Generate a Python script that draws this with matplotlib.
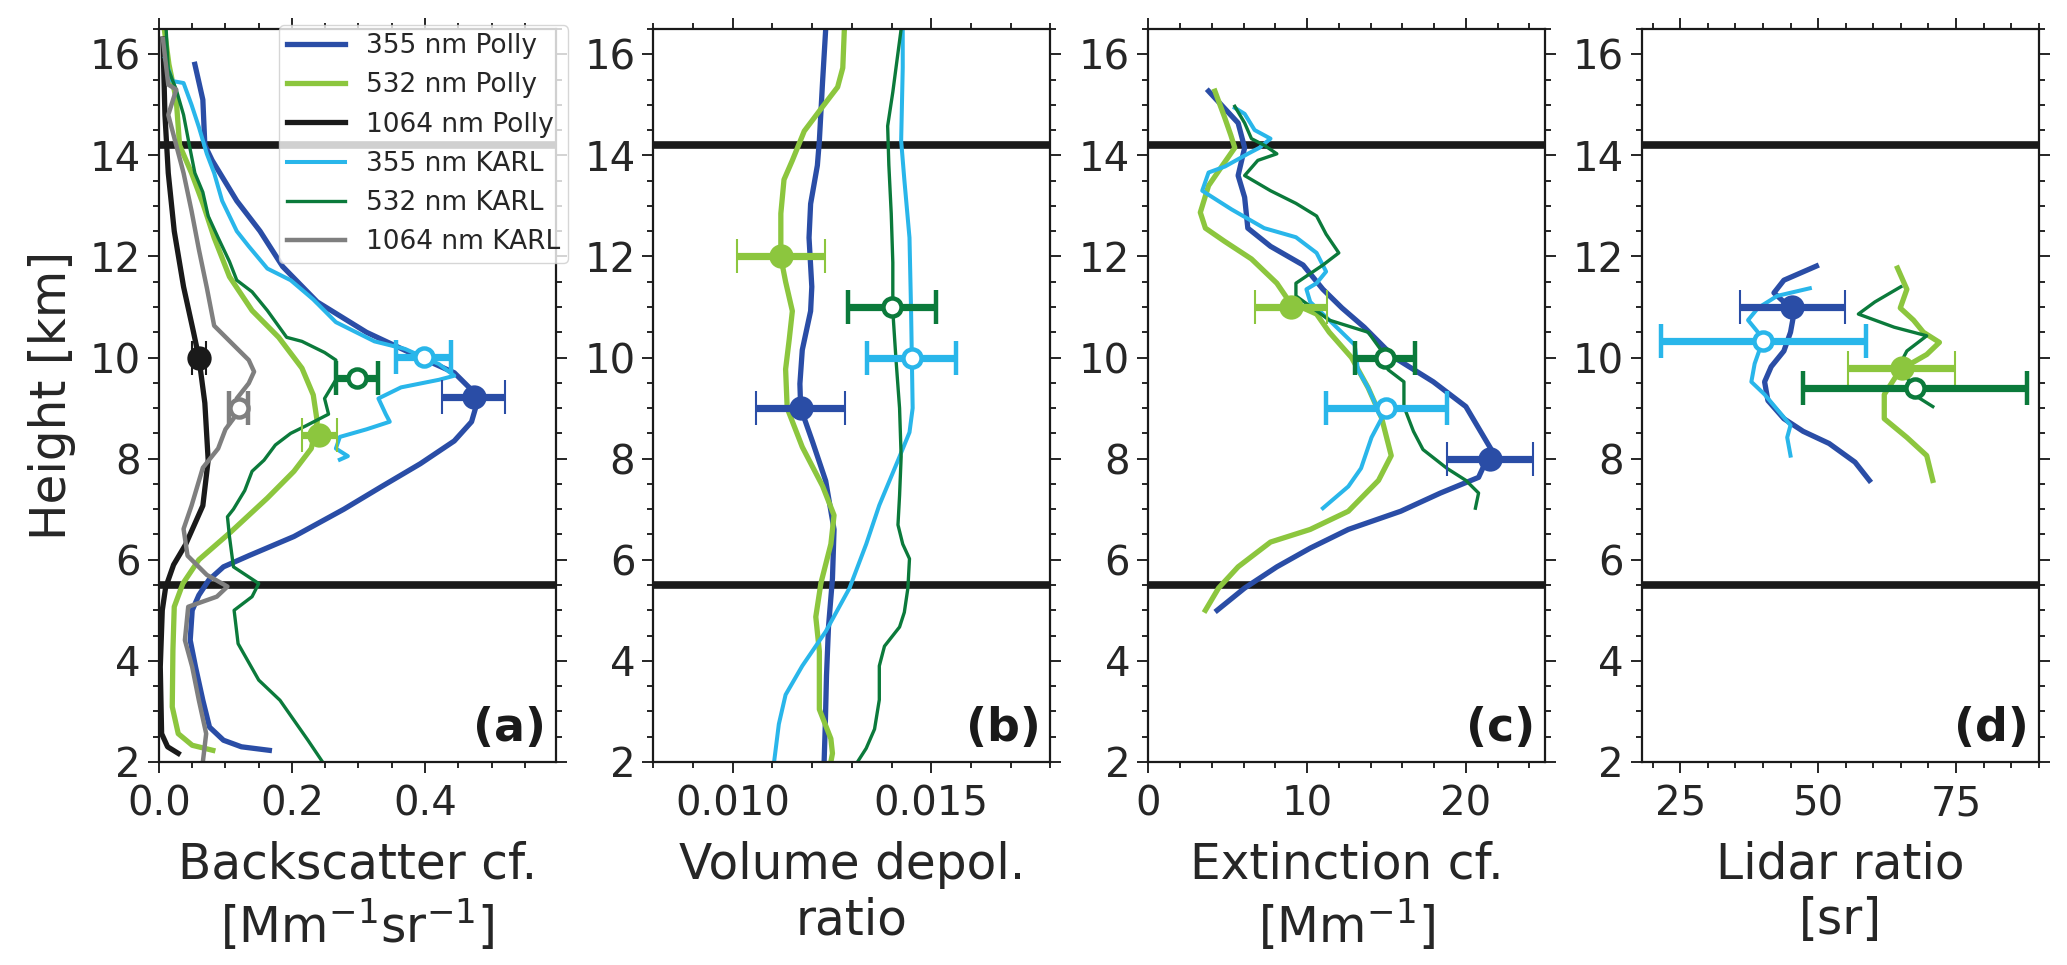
import numpy as np
import matplotlib
matplotlib.use('Agg')
import matplotlib.pyplot as plt
from matplotlib.ticker import MultipleLocator

# colours
c355p = '#2a4da6'
c532p = '#8cc63e'
c1064p = '#1a1a1a'
c355k = '#29b6ea'
c532k = '#0b7a3b'
c1064k = '#7f7f7f'

layer_bounds = [5.5, 14.2]

# ---- (a) backscatter coefficient, Mm-1 sr-1 ----
bsc355p_x = [0.054, 0.066, 0.069, 0.080, 0.117, 0.152, 0.186, 0.238, 0.312, 0.393, 0.444, 0.467, 0.476, 0.470,
             0.444, 0.393, 0.335, 0.278, 0.203, 0.135, 0.097, 0.075, 0.060, 0.050, 0.047, 0.055, 0.066, 0.076,
             0.097, 0.124, 0.166]
bsc355p_z = [15.8, 15.1, 14.2, 13.9, 13.1, 12.5, 11.8, 11.1, 10.5, 10.0, 9.7, 9.4, 9.0, 8.73,
             8.35, 7.9, 7.45, 7.0, 6.46, 6.08, 5.86, 5.6, 5.3, 5.0, 4.41, 3.88, 3.22, 2.69,
             2.43, 2.3, 2.23]
bsc532p_x = [0.008, 0.015, 0.026, 0.031, 0.049, 0.066, 0.083, 0.106, 0.140, 0.180, 0.215, 0.232, 0.238, 0.229,
             0.203, 0.163, 0.108, 0.060, 0.036, 0.023, 0.021, 0.020, 0.029, 0.050, 0.081]
bsc532p_z = [16.5, 15.8, 15.1, 14.2, 13.65, 13.05, 12.37, 11.6, 10.93, 10.4, 9.79, 9.26, 8.73, 8.2,
             7.75, 7.22, 6.55, 6.0, 5.53, 5.07, 4.21, 3.09, 2.56, 2.33, 2.23]
bsc1064p_x = [0.006, 0.009, 0.014, 0.023, 0.037, 0.052, 0.060, 0.069, 0.074, 0.066, 0.040, 0.022, 0.010,
              0.005, 0.002, 0.004, 0.013, 0.029]
bsc1064p_z = [16.3, 14.8, 13.65, 12.5, 11.4, 10.5, 10.0, 9.1, 7.97, 7.07, 6.3, 5.9, 5.45,
              5.0, 3.88, 2.56, 2.3, 2.17]
bsc355k_x = [0.009, 0.020, 0.037, 0.049, 0.060, 0.072, 0.083, 0.095, 0.117, 0.135, 0.163, 0.198, 0.232,
             0.266, 0.324, 0.370, 0.421, 0.444, 0.421, 0.364, 0.330, 0.341, 0.347, 0.312, 0.272, 0.266,
             0.284, 0.272]
bsc355k_z = [15.92, 15.47, 15.43, 15.0, 14.56, 14.03, 13.65, 13.1, 12.5, 12.2, 11.76, 11.53, 11.15,
             10.7, 10.32, 10.17, 9.87, 9.64, 9.56, 9.41, 9.19, 8.88, 8.73, 8.58, 8.43, 8.2,
             8.05, 7.98]
bsc532k_x = [0.011, 0.014, 0.026, 0.037, 0.046, 0.054, 0.066, 0.074, 0.089, 0.106, 0.117, 0.140, 0.163,
             0.192, 0.215, 0.249, 0.266, 0.266, 0.249, 0.255, 0.221, 0.198, 0.175, 0.158, 0.140, 0.129,
             0.112, 0.103, 0.106, 0.112, 0.150, 0.140, 0.113, 0.119, 0.150, 0.182, 0.224, 0.246]
bsc532k_z = [16.45, 15.7, 15.3, 14.8, 14.18, 13.65, 13.27, 12.8, 12.37, 11.9, 11.53, 11.3, 10.93,
             10.4, 10.32, 10.1, 9.95, 9.56, 9.19, 8.88, 8.65, 8.5, 8.27, 7.97, 7.75, 7.37,
             7.0, 6.85, 6.46, 5.86, 5.53, 5.27, 5.0, 4.34, 3.62, 3.22, 2.43, 2.0]
bsc1064k_x = [0.006, 0.014, 0.026, 0.014, 0.026, 0.037, 0.049, 0.060, 0.072, 0.083, 0.112, 0.135, 0.143,
              0.135, 0.117, 0.117, 0.100, 0.089, 0.066, 0.049, 0.037, 0.043, 0.072, 0.103, 0.087, 0.044,
              0.039, 0.050, 0.060, 0.071, 0.066]
bsc1064k_z = [16.3, 15.4, 15.3, 14.8, 14.2, 13.65, 12.9, 12.14, 11.38, 10.63, 10.25, 9.95, 9.72,
              9.49, 9.19, 8.88, 8.58, 8.2, 7.82, 7.07, 6.61, 6.08, 5.7, 5.47, 5.27, 5.07,
              4.41, 3.88, 3.22, 2.56, 2.0]
# layer means: value, height, error  (Polly: 355, 532, 1064 / KARL: 355, 532, 1064)
bsc_pt_polly = [(0.473, 9.22, 0.047), (0.241, 8.47, 0.026), (0.060, 10.0, 0.010)]
bsc_pt_karl = [(0.398, 10.02, 0.041), (0.298, 9.6, 0.032), (0.120, 9.0, 0.014)]

# ---- (b) volume depolarization ratio ----
vdr355p_x = [0.01234, 0.01226, 0.01218, 0.01213, 0.01196, 0.01192, 0.01199, 0.01196, 0.01175, 0.01169,
             0.01171, 0.01201, 0.01234, 0.01255, 0.01251, 0.01241, 0.01236, 0.01233, 0.01230]
vdr355p_z = [16.5, 15.44, 14.29, 13.8, 13.04, 12.37, 11.4, 10.92, 10.15, 9.48,
             9.0, 8.33, 7.56, 6.6, 5.63, 4.67, 3.71, 2.75, 2.0]
vdr532p_x = [0.01281, 0.01277, 0.01264, 0.01226, 0.01180, 0.01150, 0.01129, 0.01121, 0.01121, 0.01133,
             0.01150, 0.01142, 0.01133, 0.01137, 0.01175, 0.01226, 0.01255, 0.01247, 0.01222, 0.01209,
             0.01218, 0.01218, 0.01218, 0.01247, 0.01251, 0.01247]
vdr532p_z = [16.5, 15.73, 15.35, 14.96, 14.48, 13.9, 13.52, 12.85, 11.98, 11.5,
             10.92, 10.35, 9.77, 9.0, 8.23, 7.46, 6.88, 6.31, 5.54, 4.87,
             4.19, 3.42, 3.04, 2.46, 2.17, 2.0]
vdr355k_x = [0.01428, 0.01428, 0.01424, 0.01432, 0.01445, 0.01449, 0.01453, 0.01445, 0.01420, 0.01369,
             0.01336, 0.01294, 0.01234, 0.01175, 0.01133, 0.01116, 0.01104]
vdr355k_z = [16.5, 15.73, 14.29, 13.52, 12.37, 10.92, 9.0, 8.52, 8.04, 7.08,
             6.31, 5.44, 4.58, 3.9, 3.33, 2.75, 2.0]
vdr532k_x = [0.01424, 0.01411, 0.01403, 0.01390, 0.01393, 0.01399, 0.01403, 0.01403, 0.01411, 0.01420,
             0.01424, 0.01420, 0.01416, 0.01428, 0.01445, 0.01441, 0.01432, 0.01420, 0.01382, 0.01369,
             0.01369, 0.01357, 0.01336, 0.01314]
vdr532k_z = [16.5, 15.73, 15.25, 14.58, 13.81, 12.85, 11.88, 10.92, 9.96, 9.0,
             8.04, 7.27, 6.69, 6.31, 6.02, 5.44, 4.96, 4.67, 4.29, 3.9,
             3.23, 2.65, 2.27, 2.0]
vdr_pt_polly = [(0.01171, 9.0, 0.00112), (0.01121, 12.0, 0.0011)]
vdr_pt_karl = [(0.01451, 10.0, 0.00112), (0.01401, 11.0, 0.00112)]

# ---- (c) extinction coefficient, Mm-1 ----
ext355p_x = [3.8, 5.66, 6.07, 5.66, 6.07, 6.27, 7.7, 9.75, 11.0, 12.2, 13.6, 15.5, 17.95, 20.0, 21.6,
             20.8, 18.4, 15.9, 12.6, 10.2, 8.1, 6.07, 4.34]
ext355p_z = [15.27, 14.64, 14.15, 13.6, 13.17, 12.56, 12.2, 11.83, 11.35, 10.98, 10.6, 10.0, 9.52, 9.03, 8.18,
             7.63, 7.32, 6.96, 6.6, 6.23, 5.86, 5.44, 5.0]
ext532p_x = [4.2, 4.8, 5.2, 5.45, 4.63, 3.8, 3.28, 3.6, 4.8, 6.5, 8.1, 8.9, 10.6, 11.4, 12.8, 13.85, 14.7,
             15.3, 14.5, 12.6, 10.2, 7.7, 5.66, 4.43, 3.6]
ext532p_z = [15.27, 14.76, 14.4, 14.15, 13.78, 13.4, 12.87, 12.56, 12.3, 11.95, 11.47, 11.1, 10.86, 10.5, 10.0,
             9.4, 8.8, 8.06, 7.57, 6.96, 6.6, 6.35, 5.86, 5.44, 5.0]
ext355k_x = [5.45, 6.07, 6.7, 7.7, 7.0, 6.27, 4.84, 3.8, 3.4, 5.25, 7.3, 9.3, 10.6, 11.2, 10.6, 9.96, 10.2,
             11.4, 13.0, 13.2, 13.85, 14.7, 14.06, 13.4, 12.6, 11.0]
ext355k_z = [14.94, 14.82, 14.5, 14.33, 14.15, 14.03, 13.78, 13.66, 13.3, 12.93, 12.56, 12.38, 12.07, 11.7,
             11.47, 11.35, 11.1, 10.74, 10.25, 9.76, 9.4, 8.8, 8.42, 7.81, 7.45, 7.02]
ext532k_x = [5.45, 6.07, 6.5, 7.3, 8.1, 6.9, 6.07, 7.7, 9.3, 10.6, 11.2, 12.0, 11.0, 9.3, 9.3, 11.4, 13.85,
             14.7, 15.1, 16.1, 16.1, 16.7, 17.3, 18.8, 20.0, 20.8, 20.6]
ext532k_z = [14.97, 14.64, 14.33, 14.2, 14.03, 13.9, 13.6, 13.3, 13.05, 12.8, 12.44, 12.07, 11.83, 11.47,
             11.22, 10.74, 10.5, 10.13, 9.76, 9.52, 9.03, 8.54, 8.18, 7.81, 7.57, 7.32, 7.02]
ext_pt_polly = [(21.5, 8.0, 2.7), (9.0, 11.0, 2.25)]
ext_pt_karl = [(15.0, 9.0, 3.8), (14.9, 10.0, 1.9)]

# ---- (d) lidar ratio, sr ----
lr355p_x = [49.7, 43.8, 42.0, 43.8, 45.6, 45.0, 43.8, 41.5, 40.3, 40.9, 43.8, 47.3, 52.0, 56.7, 59.3]
lr355p_z = [11.81, 11.53, 11.28, 11.1, 10.86, 10.5, 10.13, 9.82, 9.52, 9.15, 8.79, 8.54, 8.3, 7.93, 7.57]
lr532p_x = [64.4, 66.1, 64.9, 67.3, 69.1, 72.0, 69.7, 64.9, 62.0, 62.0, 66.1, 69.7, 70.8]
lr532p_z = [11.77, 11.35, 10.98, 10.74, 10.5, 10.3, 10.06, 9.76, 9.27, 8.79, 8.42, 8.06, 7.57]
lr355k_x = [48.5, 42.6, 39.1, 37.3, 39.1, 39.7, 38.5, 37.9, 40.3, 42.6, 45.0, 44.4, 45.0]
lr355k_z = [11.37, 11.22, 10.98, 10.74, 10.5, 10.25, 9.88, 9.52, 9.27, 8.97, 8.66, 8.42, 8.06]
lr532k_x = [65.0, 60.3, 57.3, 60.3, 63.8, 69.7, 66.1, 64.9, 66.1, 67.3, 70.8]
lr532k_z = [11.4, 11.1, 10.86, 10.74, 10.6, 10.43, 10.13, 9.88, 9.64, 9.27, 9.03]
lr_pt_polly = [(45.3, 11.0, 9.5), (65.2, 9.8, 9.7)]
lr_pt_karl = [(40.1, 10.33, 18.6), (67.6, 9.4, 20.3)]

plt.rcParams['font.family'] = 'DejaVu Sans'
plt.rcParams['text.color'] = '#262626'
plt.rcParams['axes.labelcolor'] = '#262626'
plt.rcParams['xtick.color'] = '#262626'
plt.rcParams['ytick.color'] = '#262626'

fig = plt.figure(figsize=(20.67, 9.65), dpi=100)
lefts = [0.0769, 0.3161, 0.5555, 0.7942]
axs = [fig.add_axes([l, 0.2104, 0.1921, 0.7596]) for l in lefts]

lw_p = 3.8
lw_355k = 2.9
lw_532k = 2.4
lw_1064k = 3.2


def marker(ax, pt, col, opened):
    x, z, e = pt
    if opened:
        ms, mew, mfc = 13, 3.2, 'white'
    else:
        ms, mew, mfc = 16, 1.5, col
    ax.errorbar(x, z, xerr=e, fmt='o', color=col, ms=ms, mew=mew,
                mfc=mfc, mec=col, elinewidth=5.2, capsize=12, capthick=3.6, zorder=6)


ax = axs[0]
ax.plot(bsc355p_x, bsc355p_z, color=c355p, lw=lw_p, label='355 nm Polly')
ax.plot(bsc532p_x, bsc532p_z, color=c532p, lw=lw_p, label='532 nm Polly')
ax.plot(bsc1064p_x, bsc1064p_z, color=c1064p, lw=lw_p, label='1064 nm Polly')
ax.plot(bsc355k_x, bsc355k_z, color=c355k, lw=lw_355k, label='355 nm KARL')
ax.plot(bsc532k_x, bsc532k_z, color=c532k, lw=lw_532k, label='532 nm KARL')
ax.plot(bsc1064k_x, bsc1064k_z, color=c1064k, lw=lw_1064k, label='1064 nm KARL')
for pt, col in zip(bsc_pt_polly, [c355p, c532p, c1064p]):
    marker(ax, pt, col, False)
for pt, col in zip(bsc_pt_karl, [c355k, c532k, c1064k]):
    marker(ax, pt, col, True)
ax.set_xlim(0, 0.597)
ax.xaxis.set_minor_locator(MultipleLocator(0.05))
ax.set_xticks([0.0, 0.2, 0.4])
ax.set_xticklabels(['0.0', '0.2', '0.4'])
ax.set_xlabel('Backscatter cf.\n[Mm$^{-1}$sr$^{-1}$]', fontsize=35, labelpad=12)
ax.set_ylabel('Height [km]', fontsize=35, labelpad=10)
leg = ax.legend(loc='upper right', bbox_to_anchor=(1.03, 1.005), borderaxespad=0,
                fontsize=19, framealpha=0.8, edgecolor='#cccccc', fancybox=True,
                handlelength=2.2, labelspacing=0.5, borderpad=0.3)
leg.set_zorder(10)

ax = axs[1]
ax.plot(vdr355p_x, vdr355p_z, color=c355p, lw=lw_p)
ax.plot(vdr532p_x, vdr532p_z, color=c532p, lw=lw_p)
ax.plot(vdr355k_x, vdr355k_z, color=c355k, lw=lw_355k)
ax.plot(vdr532k_x, vdr532k_z, color=c532k, lw=lw_532k)
for pt, col in zip(vdr_pt_polly, [c355p, c532p]):
    marker(ax, pt, col, False)
for pt, col in zip(vdr_pt_karl, [c355k, c532k]):
    marker(ax, pt, col, True)
ax.set_xlim(0.008, 0.018)
ax.set_xticks([0.010, 0.015])
ax.set_xticklabels(['0.010', '0.015'])
ax.xaxis.set_minor_locator(MultipleLocator(0.001))
ax.set_xlabel('Volume depol.\nratio', fontsize=35, labelpad=12)

ax = axs[2]
ax.plot(ext355p_x, ext355p_z, color=c355p, lw=lw_p)
ax.plot(ext532p_x, ext532p_z, color=c532p, lw=lw_p)
ax.plot(ext355k_x, ext355k_z, color=c355k, lw=lw_355k)
ax.plot(ext532k_x, ext532k_z, color=c532k, lw=lw_532k)
for pt, col in zip(ext_pt_polly, [c355p, c532p]):
    marker(ax, pt, col, False)
for pt, col in zip(ext_pt_karl, [c355k, c532k]):
    marker(ax, pt, col, True)
ax.set_xlim(0, 25)
ax.set_xticks([0, 10, 20])
ax.xaxis.set_minor_locator(MultipleLocator(2))
ax.set_xlabel('Extinction cf.\n[Mm$^{-1}$]', fontsize=35, labelpad=12)

ax = axs[3]
ax.plot(lr355p_x, lr355p_z, color=c355p, lw=lw_p)
ax.plot(lr532p_x, lr532p_z, color=c532p, lw=lw_p)
ax.plot(lr355k_x, lr355k_z, color=c355k, lw=lw_355k)
ax.plot(lr532k_x, lr532k_z, color=c532k, lw=lw_532k)
for pt, col in zip(lr_pt_polly, [c355p, c532p]):
    marker(ax, pt, col, False)
for pt, col in zip(lr_pt_karl, [c355k, c532k]):
    marker(ax, pt, col, True)
ax.set_xlim(18, 90)
ax.set_xticks([25, 50, 75])
ax.xaxis.set_minor_locator(MultipleLocator(5))
ax.set_xlabel('Lidar ratio\n[sr]', fontsize=35, labelpad=12)

for ax, lab in zip(axs, ['(a)', '(b)', '(c)', '(d)']):
    for h in layer_bounds:
        ax.axhline(h, color='#1a1a1a', lw=5.5, zorder=1)
    ax.set_ylim(2, 16.5)
    ax.set_yticks(np.arange(2, 17, 2))
    ax.yaxis.set_minor_locator(MultipleLocator(0.5))
    ax.tick_params(which='both', direction='out', top=True, right=True,
                   labelsize=29, width=1.4)
    ax.tick_params(which='major', length=8, pad=5)
    ax.tick_params(axis='x', which='major', pad=8)
    ax.tick_params(which='minor', length=4.5)
    for s in ax.spines.values():
        s.set_linewidth(1.6)
        s.set_color('#1a1a1a')
    ax.text(0.975, 0.015, lab, transform=ax.transAxes, ha='right', va='bottom',
            fontsize=33, fontweight='bold', color='#1a1a1a', zorder=7)

fig.savefig('out.png', dpi=100)
